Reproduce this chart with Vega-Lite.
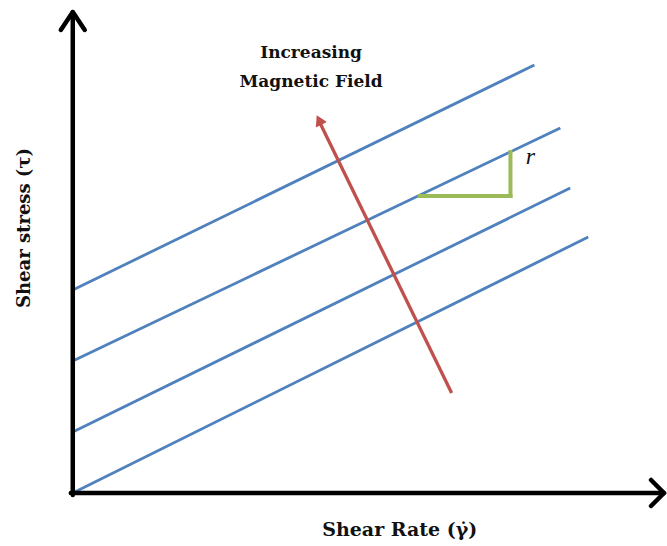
{
  "$schema": "https://vega.github.io/schema/vega-lite/v6.json",
  "width": 667,
  "height": 546,
  "padding": 0,
  "autosize": {"type": "fit", "contains": "padding"},
  "background": "white",
  "config": {"view": {"stroke": null}},
  "datasets": {
    "axes": [
      {"x": 0, "y": -2, "x2": 0, "y2": 479},
      {"x": -2, "y": 0, "x2": 591, "y2": 0},
      {"x": 0, "y": 481, "x2": -12, "y2": 463},
      {"x": 0, "y": 481, "x2": 12, "y2": 463},
      {"x": 593, "y": 0, "x2": 580, "y2": 13},
      {"x": 593, "y": 0, "x2": 580, "y2": -13}
    ],
    "lines": [
      {"field": 1, "x": 0, "y": 0, "x2": 517, "y2": 256},
      {"field": 2, "x": 0, "y": 61, "x2": 499, "y2": 305},
      {"field": 3, "x": 0, "y": 132, "x2": 489, "y2": 365},
      {"field": 4, "x": 0, "y": 203, "x2": 463, "y2": 428}
    ],
    "arrow": [{"x": 380, "y": 100, "x2": 247, "y2": 372}],
    "arrowhead": [{"x": 247, "y": 373}],
    "slope": [
      {"x": 348, "y": 297, "x2": 439, "y2": 297},
      {"x": 439, "y": 297, "x2": 439, "y2": 341}
    ],
    "labels": [
      {"x": 239, "y": 440, "text": "Increasing"},
      {"x": 239, "y": 411, "text": "Magnetic Field"}
    ]
  },
  "encoding": {
    "x": {"type": "quantitative", "scale": {"domain": [-73, 594], "nice": false, "zero": false}, "axis": null},
    "y": {"type": "quantitative", "scale": {"domain": [-53, 493], "nice": false, "zero": false}, "axis": null}
  },
  "layer": [
    {
      "data": {"name": "lines"},
      "mark": {"type": "rule", "color": "#4f81bd", "strokeWidth": 2.8},
      "encoding": {"x": {"field": "x", "type": "quantitative"}, "y": {"field": "y", "type": "quantitative"}, "x2": {"field": "x2"}, "y2": {"field": "y2"}}
    },
    {
      "data": {"name": "slope"},
      "mark": {"type": "rule", "color": "#9bbb59", "strokeWidth": 4, "strokeCap": "square"},
      "encoding": {"x": {"field": "x", "type": "quantitative"}, "y": {"field": "y", "type": "quantitative"}, "x2": {"field": "x2"}, "y2": {"field": "y2"}}
    },
    {
      "data": {"name": "arrow"},
      "mark": {"type": "rule", "color": "#c0504d", "strokeWidth": 3.3},
      "encoding": {"x": {"field": "x", "type": "quantitative"}, "y": {"field": "y", "type": "quantitative"}, "x2": {"field": "x2"}, "y2": {"field": "y2"}}
    },
    {
      "data": {"name": "arrowhead"},
      "mark": {"type": "point", "shape": "triangle-up", "filled": true, "color": "#c0504d", "size": 150, "angle": 334, "opacity": 1},
      "encoding": {"x": {"field": "x", "type": "quantitative"}, "y": {"field": "y", "type": "quantitative"}}
    },
    {
      "data": {"name": "axes"},
      "mark": {"type": "rule", "color": "#000000", "strokeWidth": 4.5, "strokeCap": "round"},
      "encoding": {"x": {"field": "x", "type": "quantitative"}, "y": {"field": "y", "type": "quantitative"}, "x2": {"field": "x2"}, "y2": {"field": "y2"}}
    },
    {
      "data": {"name": "labels"},
      "mark": {"type": "text", "font": "DejaVu Serif", "fontWeight": "bold", "fontSize": 17, "color": "#111111", "align": "center", "baseline": "middle"},
      "encoding": {"x": {"field": "x", "type": "quantitative"}, "y": {"field": "y", "type": "quantitative"}, "text": {"field": "text"}}
    },
    {
      "data": {"values": [{"x": 328, "y": -37, "text": "Shear Rate (γ̇)"}]},
      "mark": {"type": "text", "font": "DejaVu Serif", "fontWeight": "bold", "fontSize": 19, "color": "#111111", "align": "center", "baseline": "middle"},
      "encoding": {"x": {"field": "x", "type": "quantitative"}, "y": {"field": "y", "type": "quantitative"}, "text": {"field": "text"}}
    },
    {
      "data": {"values": [{"x": -48, "y": 265, "text": "Shear stress (τ)"}]},
      "mark": {"type": "text", "font": "DejaVu Serif", "fontWeight": "bold", "fontSize": 18, "color": "#111111", "align": "center", "baseline": "middle", "angle": 270},
      "encoding": {"x": {"field": "x", "type": "quantitative"}, "y": {"field": "y", "type": "quantitative"}, "text": {"field": "text"}}
    },
    {
      "data": {"values": [{"x": 459, "y": 336, "text": "r"}]},
      "mark": {"type": "text", "font": "Liberation Serif", "fontStyle": "italic", "fontSize": 24, "color": "#111111", "align": "center", "baseline": "middle"},
      "encoding": {"x": {"field": "x", "type": "quantitative"}, "y": {"field": "y", "type": "quantitative"}, "text": {"field": "text"}}
    }
  ]
}
